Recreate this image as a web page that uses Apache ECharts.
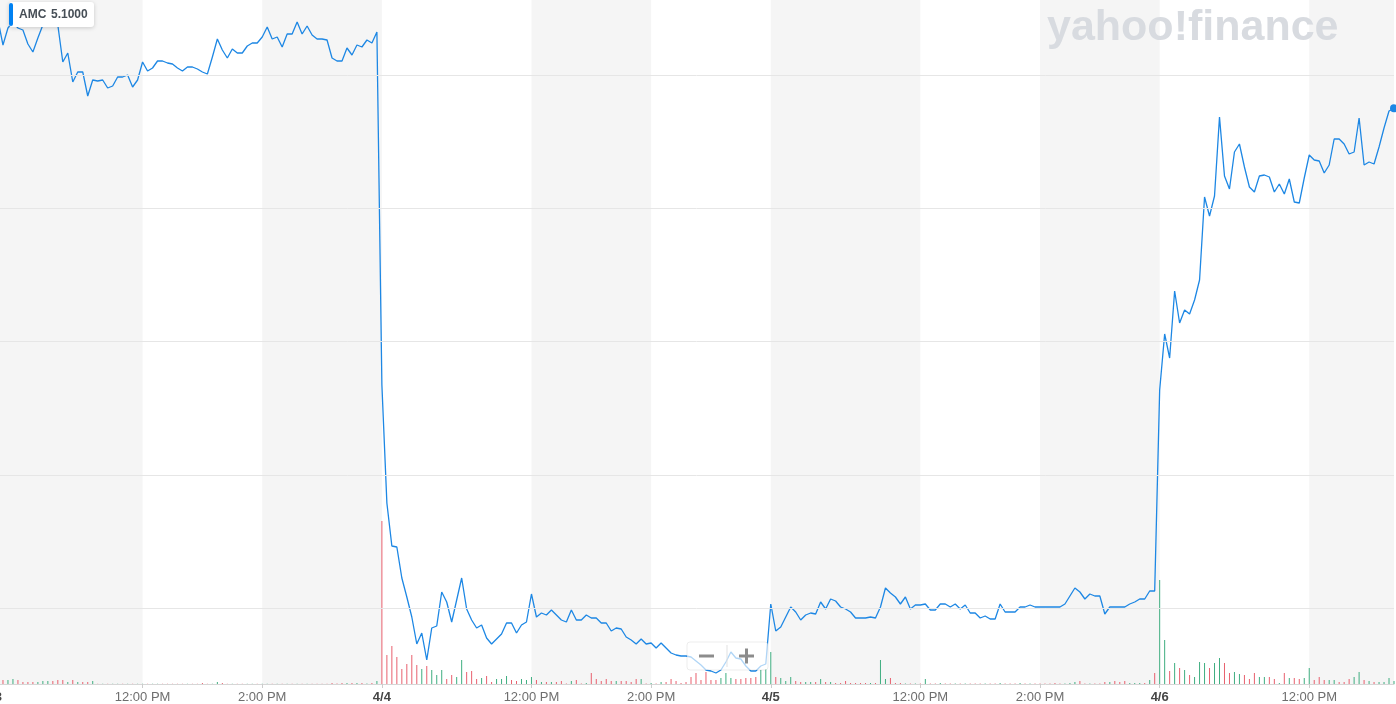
<!DOCTYPE html>
<html>
<head>
<meta charset="utf-8">
<script src="https://cdn.jsdelivr.net/npm/echarts@6/dist/echarts.min.js"></script>
<style>
html,body{margin:0;padding:0;background:#ffffff;}
#chart{width:1396px;height:704px;}
</style>
</head>
<body>
<div id="chart"></div>
<script>
// ---------- data ----------
const ticker = 'AMC';
const days = ['4/3', '4/4', '4/5', '4/6'];

// 5-minute closes, one array per session (from 09:30)
const price43 = [
  5.350, 5.365, 5.290, 5.341, 5.359, 5.341, 5.335, 5.293, 5.269, 5.311,
  5.350, 5.371, 5.353, 5.350, 5.239, 5.266, 5.179, 5.209, 5.209, 5.137,
  5.185, 5.182, 5.185, 5.161, 5.167, 5.194, 5.194, 5.200, 5.164, 5.185,
  5.239, 5.212, 5.221, 5.242, 5.242, 5.236, 5.233, 5.221, 5.212, 5.224,
  5.224, 5.218, 5.209, 5.203, 5.254, 5.308, 5.275, 5.251, 5.278, 5.266,
  5.266, 5.287, 5.296, 5.296, 5.314, 5.344, 5.308, 5.314, 5.284, 5.323,
  5.323, 5.359, 5.323, 5.347, 5.320, 5.308, 5.308, 5.305, 5.251, 5.242,
  5.242, 5.281, 5.260, 5.290, 5.284, 5.305, 5.296, 5.329
];
const price44 = [
  4.270, 3.916, 3.787, 3.784, 3.691, 3.634, 3.574, 3.493, 3.526, 3.445,
  3.541, 3.547, 3.649, 3.619, 3.559, 3.625, 3.691, 3.598, 3.565, 3.541,
  3.550, 3.511, 3.493, 3.508, 3.523, 3.556, 3.556, 3.526, 3.550, 3.559,
  3.643, 3.574, 3.586, 3.580, 3.595, 3.580, 3.565, 3.559, 3.595, 3.565,
  3.565, 3.580, 3.571, 3.571, 3.556, 3.556, 3.532, 3.541, 3.538, 3.514,
  3.505, 3.493, 3.508, 3.493, 3.496, 3.481, 3.496, 3.481, 3.466, 3.460,
  3.457, 3.457, 3.454, 3.442, 3.430, 3.415, 3.412, 3.406, 3.415, 3.439,
  3.469, 3.451, 3.448, 3.427, 3.412, 3.412, 3.427, 3.433
];
const price45 = [
  3.613, 3.532, 3.544, 3.574, 3.604, 3.589, 3.565, 3.580, 3.586, 3.583,
  3.619, 3.598, 3.628, 3.622, 3.604, 3.598, 3.589, 3.571, 3.571, 3.571,
  3.574, 3.571, 3.604, 3.661, 3.646, 3.634, 3.613, 3.634, 3.598, 3.610,
  3.610, 3.613, 3.595, 3.595, 3.613, 3.613, 3.604, 3.613, 3.598, 3.610,
  3.586, 3.586, 3.571, 3.577, 3.568, 3.568, 3.613, 3.589, 3.589, 3.589,
  3.604, 3.604, 3.610, 3.604, 3.604, 3.604, 3.604, 3.604, 3.604, 3.613,
  3.637, 3.661, 3.649, 3.628, 3.643, 3.637, 3.637, 3.583, 3.604, 3.604,
  3.604, 3.604, 3.613, 3.619, 3.628, 3.628, 3.652, 3.652
];
const price46 = [
  4.255, 4.423, 4.351, 4.552, 4.456, 4.495, 4.483, 4.525, 4.585, 4.834,
  4.777, 4.837, 5.074, 4.897, 4.858, 4.969, 4.993, 4.924, 4.864, 4.849,
  4.897, 4.900, 4.894, 4.849, 4.873, 4.843, 4.888, 4.819, 4.816, 4.891,
  4.960, 4.945, 4.942, 4.906, 4.930, 5.008, 5.008, 4.993, 4.963, 4.969,
  5.071, 4.930, 4.939, 4.933, 4.984, 5.041, 5.092, 5.100
];

// 5-minute volume, millions of shares
const vol43 = [
  0.8, 1.1, 0.4, 0.4, 0.5, 0.4, 0.2, 0.2, 0.2, 0.2,
  0.3, 0.3, 0.3, 0.4, 0.4, 0.2, 0.4, 0.2, 0.2, 0.2,
  0.3, 0.02, 0.02, 0.02, 0.02, 0.02, 0.02, 0.02, 0.02, 0.02,
  0.02, 0.02, 0.02, 0.02, 0.02, 0.02, 0.02, 0.02, 0.02, 0.02,
  0.02, 0.02, 0.1, 0.02, 0.02, 0.2, 0.1, 0.02, 0.02, 0.02,
  0.02, 0.02, 0.02, 0.02, 0.02, 0.02, 0.02, 0.02, 0.02, 0.02,
  0.02, 0.02, 0.02, 0.02, 0.02, 0.02, 0.02, 0.02, 0.1, 0.05,
  0.1, 0.1, 0.1, 0.1, 0.1, 0.05, 0.1, 0.3
];
const vol44 = [
  16.3, 2.9, 3.8, 2.7, 1.5, 2.0, 2.9, 1.9, 1.5, 1.8,
  1.4, 0.9, 1.4, 0.5, 0.9, 0.7, 2.4, 1.2, 1.3, 0.5,
  0.6, 0.8, 0.2, 0.5, 0.5, 0.8, 0.4, 0.3, 0.5, 0.4,
  0.7, 0.4, 0.2, 0.2, 0.2, 0.2, 0.3, 0.05, 0.3, 0.4,
  0.05, 0.1, 1.1, 0.5, 0.3, 0.5, 0.3, 0.3, 0.3, 0.3,
  0.2, 0.5, 0.5, 0.05, 0.1, 0.05, 0.2, 0.2, 0.5, 0.3,
  0.1, 0.2, 0.7, 1.1, 0.4, 1.2, 0.4, 0.4, 0.6, 1.1,
  0.6, 0.5, 0.5, 0.6, 0.6, 0.7, 1.4, 1.5
];
const vol45 = [
  3.2, 0.7, 0.6, 0.3, 0.7, 0.3, 0.2, 0.2, 0.2, 0.2,
  0.5, 0.2, 0.2, 0.1, 0.1, 0.3, 0.1, 0.1, 0.1, 0.1,
  0.1, 0.1, 2.4, 0.5, 0.6, 0.1, 0.1, 0.05, 0.05, 0.05,
  0.05, 0.5, 0.05, 0.05, 0.1, 0.05, 0.05, 0.05, 0.05, 0.05,
  0.05, 0.05, 0.05, 0.05, 0.05, 0.05, 0.1, 0.05, 0.05, 0.05,
  0.1, 0.05, 0.05, 0.05, 0.05, 0.05, 0.05, 0.1, 0.05, 0.05,
  0.1, 0.2, 0.3, 0.05, 0.05, 0.05, 0.05, 0.2, 0.2, 0.3,
  0.2, 0.3, 0.1, 0.1, 0.1, 0.1, 0.4, 1.1
];
const vol46 = [
  10.4, 4.4, 1.3, 2.1, 1.6, 1.4, 0.9, 0.7, 2.2, 2.1,
  1.6, 2.1, 2.6, 2.1, 1.1, 1.2, 1.0, 0.9, 0.5, 1.1,
  0.7, 0.7, 0.7, 0.5, 0.1, 1.1, 0.6, 0.6, 0.5, 0.6,
  1.6, 0.4, 0.7, 0.4, 0.4, 0.4, 0.2, 0.2, 0.5, 0.7,
  1.2, 0.4, 0.3, 0.2, 0.2, 0.2, 0.6, 0.3
];

const tickCats = ['4/3 09:30', '4/3 12:00', '4/3 14:00', '4/4 09:30', '4/4 12:00', '4/4 14:00',
                  '4/5 09:30', '4/5 12:00', '4/5 14:00', '4/6 09:30', '4/6 12:00'];
const tickLabels = ['4/3', '12:00 PM', '2:00 PM', '4/4', '12:00 PM', '2:00 PM',
                    '4/5', '12:00 PM', '2:00 PM', '4/6', '12:00 PM'];
const gridLevels = [5.2, 4.8, 4.4, 4.0, 3.6];

// ---------- build ----------
const priceByDay = [price43, price44, price45, price46];
const cats = [];
priceByDay.forEach(function (arr, d) {
  arr.forEach(function (_, k) {
    const m = 570 + 5 * k;
    const hh = String(Math.floor(m / 60)).padStart(2, '0');
    const mm = String(m % 60).padStart(2, '0');
    cats.push(days[d] + ' ' + hh + ':' + mm);
  });
});
const price = [].concat(price43, price44, price45, price46);
const volume = [].concat(vol43, vol44, vol45, vol46);
const lastIdx = price.length - 1;

const UP = '#3fae80', DOWN = '#e8606e', BLUE = '#1d87e4';
const volData = volume.map(function (v, i) {
  const up = i === 0 ? true : price[i] > price[i - 1];
  return { value: v, itemStyle: { color: up ? UP : DOWN } };
});

const tickSet = new Set(tickCats);
const whiteBands = [];
for (let k = 1; k + 1 < tickCats.length; k += 2) {
  whiteBands.push([{ xAxis: tickCats[k] }, { xAxis: tickCats[k + 1] }]);
}

const FONT = '"Liberation Sans", Arial, sans-serif';
const BTN = '#8c8c8c';

const chart = echarts.init(document.getElementById('chart'), null, { renderer: 'canvas' });
chart.setOption({
  animation: false,
  backgroundColor: '#ffffff',
  textStyle: { fontFamily: FONT },
  grid: {
    left: -7, right: 2, top: 0, bottom: 20,
    containLabel: false, outerBoundsMode: 'none',
    show: true, backgroundColor: '#f5f5f5', borderWidth: 0
  },
  xAxis: {
    type: 'category',
    data: cats,
    boundaryGap: false,
    axisLine: { lineStyle: { color: '#d6d6d6', width: 1 } },
    axisTick: {
      show: true, length: 4,
      interval: function (i) { return tickSet.has(cats[i]); },
      lineStyle: { color: '#cccccc' }
    },
    axisLabel: {
      interval: function (i) { return tickSet.has(cats[i]); },
      margin: 7,
      formatter: function (v) {
        const t = tickLabels[tickCats.indexOf(v)];
        return t.indexOf('/') >= 0 ? '{d|' + t + '}' : '{t|' + t + '}';
      },
      rich: {
        d: { fontFamily: FONT, fontSize: 13, fontWeight: 'bold', color: '#464646' },
        t: { fontFamily: FONT, fontSize: 13, color: '#6e6e6e' }
      }
    },
    splitLine: { show: false }
  },
  yAxis: [
    { type: 'value', min: 3.373, max: 5.425, show: false, splitLine: { show: false } },
    { type: 'value', min: 0, max: 68.4, show: false, splitLine: { show: false } }
  ],
  series: [
    {
      name: 'bands', type: 'line', data: [], z: 1, silent: true,
      markArea: {
        silent: true,
        itemStyle: { color: '#ffffff', opacity: 1, borderWidth: 0 },
        label: { show: false },
        emphasis: { disabled: true },
        data: whiteBands
      }
    },
    {
      name: 'grid', type: 'line', data: [], z: 2, silent: true, yAxisIndex: 0,
      markLine: {
        silent: true, symbol: ['none', 'none'],
        label: { show: false },
        lineStyle: { color: '#e6e6e6', width: 1, type: 'solid' },
        emphasis: { disabled: true },
        data: gridLevels.map(function (v) { return { yAxis: v }; })
      }
    },
    {
      name: 'Volume', type: 'bar', yAxisIndex: 1, data: volData,
      barWidth: 1, z: 3, silent: true
    },
    {
      name: ticker, type: 'line', yAxisIndex: 0, data: price, z: 4,
      showSymbol: false, silent: true,
      lineStyle: { color: BLUE, width: 1.3 },
      itemStyle: { color: BLUE },
      markPoint: {
        silent: true,
        symbol: 'circle', symbolSize: 8,
        itemStyle: { color: BLUE },
        label: { show: false },
        data: [{ coord: [cats[lastIdx], price[lastIdx]] }]
      }
    }
  ],
  graphic: [
    {
      type: 'text', z: 5, x: 1047, y: 28,
      style: {
        text: 'yahoo!finance', font: 'bold 43px ' + FONT, fill: '#d8dbe0',
        verticalAlign: 'middle', textVerticalAlign: 'middle'
      }
    },
    { type: 'rect', z: 20, shape: { x: 9, y: 2, width: 85, height: 25, r: 3 },
      style: { fill: '#ffffff', shadowBlur: 4, shadowColor: 'rgba(0,0,0,0.18)', shadowOffsetY: 1 } },
    { type: 'rect', z: 21, shape: { x: 9, y: 3, width: 4, height: 23, r: 2 },
      style: { fill: '#0081f2' } },
    { type: 'text', z: 21, x: 19, y: 15,
      style: { text: ticker, font: 'bold 12px ' + FONT, fill: '#464e56',
               verticalAlign: 'middle', textVerticalAlign: 'middle' } },
    { type: 'text', z: 21, x: 51, y: 15,
      style: { text: price[lastIdx].toFixed(4), font: 'bold 12px ' + FONT, fill: '#464e56',
               verticalAlign: 'middle', textVerticalAlign: 'middle' } },
    { type: 'rect', z: 20, shape: { x: 687, y: 642, width: 81, height: 28, r: 3 },
      style: { fill: 'rgba(255,255,255,0.65)', stroke: 'rgba(0,0,0,0.07)', lineWidth: 1 } },
    { type: 'rect', z: 21, shape: { x: 726.5, y: 645, width: 1, height: 22 }, style: { fill: '#e2e2e2' } },
    { type: 'rect', z: 21, shape: { x: 699, y: 654.5, width: 15, height: 3 }, style: { fill: BTN } },
    { type: 'rect', z: 21, shape: { x: 739, y: 654.5, width: 15, height: 3 }, style: { fill: BTN } },
    { type: 'rect', z: 21, shape: { x: 745, y: 648.5, width: 3, height: 15 }, style: { fill: BTN } }
  ]
});
</script>
</body>
</html>
